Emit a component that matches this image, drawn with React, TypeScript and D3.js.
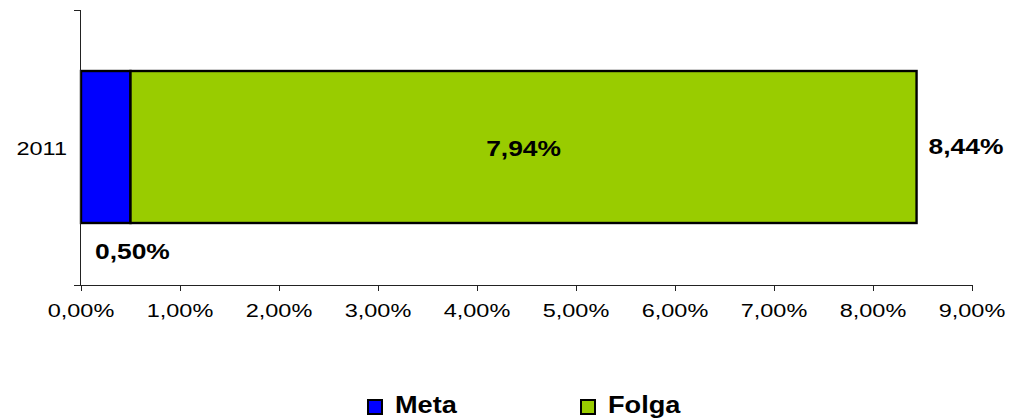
import * as d3 from "d3";
import { useEffect, useRef } from "react";

// chart values
const years = ["2011"];
const keys = ["Meta", "Folga"];
const metaValues = [0.005];
const folgaValues = [0.0794];
const colors = ["#0000FF", "#99CC00"];

const fmt = (v: number) => (v * 100).toFixed(2).replace(".", ",") + "%";

const App = () => {
  const svgRef = useRef<SVGSVGElement>(null);

  useEffect(() => {
    const font = "'Liberation Sans', Arial, sans-serif";
    const stretch = 1.27;

    const svg = d3.select(svgRef.current);
    svg.selectAll("*").remove();

    const rows = years.map((y, i) => ({ year: y, Meta: metaValues[i], Folga: folgaValues[i] }));
    const series = d3.stack<any>().keys(keys)(rows);

    const x = d3.scaleLinear().domain([0, 0.09]).range([81, 972]);
    const y = d3.scaleBand().domain(years).range([10, 285]).padding(0.288);

    // stretched text helper (the original picture is wider than it is tall)
    const label = (g: any, tx: number, ty: number, txt: string, opts: any = {}) =>
      g
        .append("text")
        .attr("transform", `translate(${tx},${ty}) scale(${opts.sx ?? stretch},1)`)
        .attr("text-anchor", opts.anchor ?? "middle")
        .attr("font-family", font)
        .attr("font-size", opts.size ?? 18)
        .attr("font-weight", opts.bold ? "bold" : "normal")
        .attr("fill", "#000")
        .text(txt);

    // bars
    svg
      .append("g")
      .selectAll("g")
      .data(series)
      .join("g")
      .attr("fill", (_d: any, i: number) => colors[i])
      .selectAll("rect")
      .data((d: any) => d)
      .join("rect")
      .attr("x", (d: any) => x(d[0]))
      .attr("y", (d: any) => Math.round(y(d.data.year)!))
      .attr("width", (d: any) => x(d[1]) - x(d[0]))
      .attr("height", Math.round(y.bandwidth()))
      .attr("stroke", "#000")
      .attr("stroke-width", 2.4);

    // axes
    const axisColor = "#222";
    const gx = svg.append("g");
    gx.append("line")
      .attr("x1", 80).attr("x2", x(0.09)).attr("y1", 285.5).attr("y2", 285.5)
      .attr("stroke", axisColor);
    const ticks = d3.range(0, 10).map((i) => i / 100);
    ticks.forEach((t) => {
      gx.append("line")
        .attr("x1", Math.round(x(t)) + 0.5).attr("x2", Math.round(x(t)) + 0.5)
        .attr("y1", 285).attr("y2", 291)
        .attr("stroke", axisColor);
      label(gx, x(t), 317, fmt(t), { size: 18.5 });
    });

    const gy = svg.append("g");
    gy.append("line")
      .attr("x1", 80.5).attr("x2", 80.5).attr("y1", 10).attr("y2", 285)
      .attr("stroke", axisColor);
    [10, 285].forEach((py) => {
      gy.append("line")
        .attr("x1", 74).attr("x2", 80).attr("y1", py + 0.5).attr("y2", py + 0.5)
        .attr("stroke", axisColor);
    });
    years.forEach((yr) => {
      label(gy, 67, y(yr)! + y.bandwidth() / 2 + 7, yr, { anchor: "end", size: 18.5 });
    });

    // data labels
    const gl = svg.append("g");
    rows.forEach((r) => {
      const top = y(r.year)!;
      const mid = top + y.bandwidth() / 2;
      const total = r.Meta + r.Folga;
      const b = { bold: true, size: 22, sx: 1.2 };
      label(gl, (x(r.Meta) + x(total)) / 2, mid + 8, fmt(r.Folga), b);
      label(gl, x(total) + 12, mid + 6, fmt(total), { ...b, anchor: "start" });
      label(gl, x(0) + 14, top + y.bandwidth() + 35, fmt(r.Meta), { ...b, anchor: "start" });
    });

    // legend
    const legendX = [367, 580];
    const gLeg = svg.append("g");
    keys.forEach((k, i) => {
      gLeg.append("rect")
        .attr("x", legendX[i] + 1).attr("y", 400)
        .attr("width", 14).attr("height", 14)
        .attr("fill", colors[i])
        .attr("stroke", "#000").attr("stroke-width", 2);
      label(gLeg, legendX[i] + 28, 413, k, { bold: true, size: 23, sx: 1.18, anchor: "start" });
    });
  }, []);

  return (
    <svg
      ref={svgRef}
      width={1014}
      height={419}
      style={{ position: "absolute", left: 0, top: 0, background: "#fff" }}
    />
  );
};

export default App;
